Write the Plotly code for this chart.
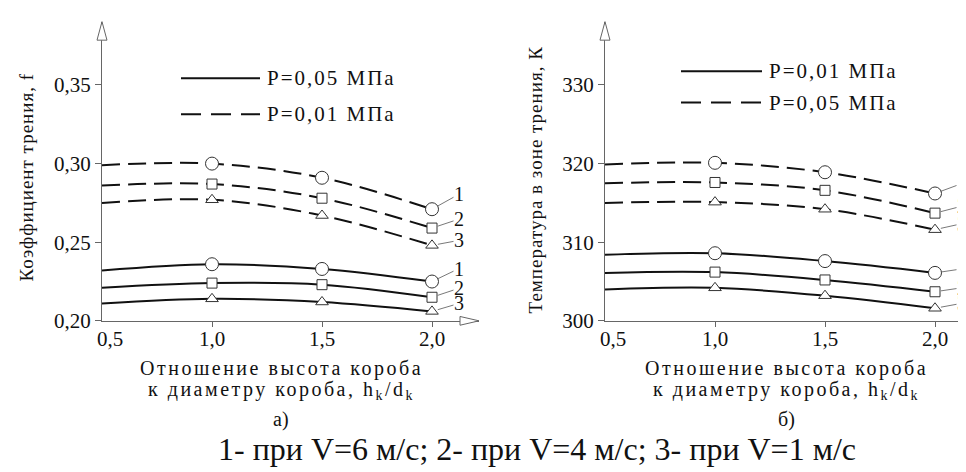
import plotly.graph_objects as go

W, H = 966, 472

# ---------------- data ----------------
H_RATIO = [0.5, 1.0, 1.5, 2.0]          # h_k/d_k

# a) friction coefficient f
F_P001_V6 = [0.299, 0.300, 0.291, 0.271]
F_P001_V4 = [0.286, 0.287, 0.278, 0.259]
F_P001_V1 = [0.275, 0.277, 0.267, 0.248]
F_P005_V6 = [0.232, 0.236, 0.233, 0.225]
F_P005_V4 = [0.221, 0.224, 0.223, 0.215]
F_P005_V1 = [0.211, 0.214, 0.212, 0.206]

# б) temperature in friction zone, K
T_P005_V6 = [319.9, 320.1, 318.9, 316.2]
T_P005_V4 = [317.5, 317.6, 316.6, 313.7]
T_P005_V1 = [315.0, 315.1, 314.2, 311.6]
T_P001_V6 = [308.4, 308.6, 307.6, 306.1]
T_P001_V4 = [306.1, 306.2, 305.2, 303.7]
T_P001_V1 = [304.0, 304.2, 303.2, 301.6]

X_TICKS = [0.5, 1.0, 1.5, 2.0]
X_TICK_LABELS = ["0,5", "1,0", "1,5", "2,0"]
F_TICKS = [0.20, 0.25, 0.30, 0.35]
F_TICK_LABELS = ["0,20", "0,25", "0,30", "0,35"]
T_TICKS = [300, 310, 320, 330]
T_TICK_LABELS = ["300", "310", "320", "330"]

SERIES_LABELS = ["1", "2", "3"]
SYMBOLS = ["circle", "square", "triangle-up"]
SIZES = [13, 10, 11]

FONT = "Liberation Serif, Times New Roman, serif"
INK = "#111111"
AXC = "#666666"


def px(x):
    return x / W


def py(y):
    return 1 - y / H


def sp(text, s):
    return '<span style="letter-spacing:%spx">%s</span>' % (s, text)


fig = go.Figure()

left_dashed = [F_P001_V6, F_P001_V4, F_P001_V1]
left_solid = [F_P005_V6, F_P005_V4, F_P005_V1]
right_dashed = [T_P005_V6, T_P005_V4, T_P005_V1]
right_solid = [T_P001_V6, T_P001_V4, T_P001_V1]


def add_series(vals, dash, xa, ya):
    fig.add_trace(go.Scatter(
        x=H_RATIO, y=vals, mode="lines", xaxis=xa, yaxis=ya,
        line=dict(color=INK, width=2, dash=dash, shape="spline", smoothing=1.0),
        showlegend=False, hoverinfo="skip"))


def add_markers(vals, i, xa, ya):
    fig.add_trace(go.Scatter(
        x=H_RATIO[1:], y=vals[1:], mode="markers", xaxis=xa, yaxis=ya,
        marker=dict(symbol=SYMBOLS[i], size=SIZES[i], color="white",
                    line=dict(color="#333333", width=1)),
        showlegend=False, hoverinfo="skip"))


for group, dash, xa, ya in [(left_dashed, "18px,8px", "x", "y"),
                            (left_solid, "solid", "x", "y"),
                            (right_dashed, "18px,8px", "x2", "y2"),
                            (right_solid, "solid", "x2", "y2")]:
    for i, vals in enumerate(group):
        add_series(vals, dash, xa, ya)
    for i, vals in enumerate(group):
        add_markers(vals, i, xa, ya)

annotations = []

# curve number labels with leader lines
label_offsets = [
    (left_dashed, "x", "y", 27, [-15, -9, -5]),
    (left_solid, "x", "y", 27, [-13, -9, -8]),
    (right_dashed, "x2", "y2", 27, [-10, -7, -6]),
    (right_solid, "x2", "y2", 27, [-4, -4, -5]),
]
for group, xr, yr, ax, ays in label_offsets:
    for i, vals in enumerate(group):
        annotations.append(dict(
            x=H_RATIO[-1], y=vals[-1], xref=xr, yref=yr,
            text=SERIES_LABELS[i], showarrow=True, arrowhead=0,
            arrowwidth=0.8, arrowcolor="#555555", ax=ax, ay=ays[i],
            standoff=6, borderpad=0,
            font=dict(family=FONT, size=20, color=INK)))

# x tick labels
for xr in ["x", "x2"]:
    for v, t in zip(X_TICKS, X_TICK_LABELS):
        annotations.append(dict(
            x=v, y=py(340), xref=xr, yref="paper", text=t, showarrow=False,
            xshift=8 if v == X_TICKS[0] else 0,
            xanchor="center", yanchor="middle",
            font=dict(family=FONT, size=21, color=INK)))

# axis titles
xt1 = sp("Отношение высота короба", 2.5)
xt2 = sp("к диаметру короба, h<sub>k</sub>/d<sub>k</sub>", 2.5)
for cx, lab in [(273, "а)"), (778, "б)")]:
    annotations.append(dict(x=px(cx), y=py(370), xref="paper", yref="paper",
                            text=xt1, showarrow=False, xanchor="center", yanchor="middle",
                            font=dict(family=FONT, size=20, color=INK)))
    annotations.append(dict(x=px(cx), y=py(392), xref="paper", yref="paper",
                            text=xt2, showarrow=False, xanchor="center", yanchor="middle",
                            font=dict(family=FONT, size=20, color=INK)))
    annotations.append(dict(x=px(cx), y=py(422), xref="paper", yref="paper",
                            text=lab, showarrow=False, xanchor="center", yanchor="middle",
                            font=dict(family=FONT, size=20, color=INK)))

annotations.append(dict(x=px(19), y=py(174), xref="paper", yref="paper",
                        text=sp("Коэффициент трения, f", 1), textangle=-90,
                        showarrow=False, xanchor="center", yanchor="middle",
                        font=dict(family=FONT, size=19, color=INK)))
annotations.append(dict(x=px(527), y=py(177), xref="paper", yref="paper",
                        text=sp("Температура в зоне трения, К", 1), textangle=-90,
                        showarrow=False, xanchor="center", yanchor="middle",
                        font=dict(family=FONT, size=19, color=INK)))

# caption
annotations.append(dict(x=px(529), y=py(452), xref="paper", yref="paper",
                        text="1- при V=6 м/с; 2- при V=4 м/с; 3- при V=1 м/с",
                        showarrow=False, xanchor="center", yanchor="middle",
                        font=dict(family=FONT, size=32, color=INK)))

shapes = []
# legends
legend_items = [
    (173, 252, 257, 72, "solid", "P=0,05 МПа"),
    (173, 252, 257, 109, "20px,10px", "P=0,01 МПа"),
    (673, 754, 759, 65, "solid", "P=0,01 МПа"),
    (673, 754, 759, 97, "20px,10px", "P=0,05 МПа"),
]
for x0, x1, tx, yy, dash, txt in legend_items:
    shapes.append(dict(type="line", xref="paper", yref="paper",
                       x0=px(x0), x1=px(x1), y0=py(yy), y1=py(yy),
                       line=dict(color=INK, width=2, dash=dash)))
    annotations.append(dict(x=px(tx), y=py(yy), xref="paper", yref="paper",
                            text=sp(txt, 2), showarrow=False, xanchor="left",
                            yanchor="middle", font=dict(family=FONT, size=21, color=INK)))

# axis arrows (open triangles)
def tri(points):
    p = "M %f %f " % (px(points[0][0]), py(points[0][1]))
    for (a, b) in points[1:]:
        p += "L %f %f " % (px(a), py(b))
    return p + "Z"


for ax0 in [94, 597]:
    shapes.append(dict(type="path", xref="paper", yref="paper", layer="above",
                       path=tri([(ax0, 14), (ax0 - 5, 33), (ax0 + 5, 33)]),
                       fillcolor="white", line=dict(color=AXC, width=1)))
for xb in [452, 955]:
    shapes.append(dict(type="path", xref="paper", yref="paper", layer="above",
                       path=tri([(xb + 19, 321), (xb, 316.5), (xb, 325.5)]),
                       fillcolor="white", line=dict(color=AXC, width=1)))

axis_common = dict(showgrid=False, zeroline=False, showline=True, linecolor=AXC,
                   linewidth=1, ticks="outside", tickcolor=AXC, tickwidth=1)
ydom = [py(321), py(14)]
fig.update_layout(
    width=W, height=H, margin=dict(l=0, r=0, t=0, b=0),
    paper_bgcolor="white", plot_bgcolor="white", showlegend=False,
    font=dict(family=FONT, color=INK),
    xaxis=dict(domain=[px(94), px(471)], range=[0.5, 0.5 + 377 / 220], anchor="y",
               tickvals=X_TICKS[1:], showticklabels=False, ticklen=5, **axis_common),
    yaxis=dict(domain=ydom, range=[0.2, 0.2 + 307 / 1613.3], anchor="x",
               tickvals=F_TICKS, ticktext=F_TICK_LABELS, ticklen=6,
               tickfont=dict(family=FONT, size=21, color=INK), **axis_common),
    xaxis2=dict(domain=[px(597), 1.0], range=[0.5, 0.5 + 369 / 220], anchor="y2",
                tickvals=X_TICKS[1:], showticklabels=False, ticklen=5, **axis_common),
    yaxis2=dict(domain=ydom, range=[300, 300 + 307 / 8.067], anchor="x2",
                tickvals=T_TICKS, ticktext=T_TICK_LABELS, ticklen=6,
                tickfont=dict(family=FONT, size=21, color=INK), **axis_common),
    annotations=annotations, shapes=shapes,
)

fig.write_html("out.html")
